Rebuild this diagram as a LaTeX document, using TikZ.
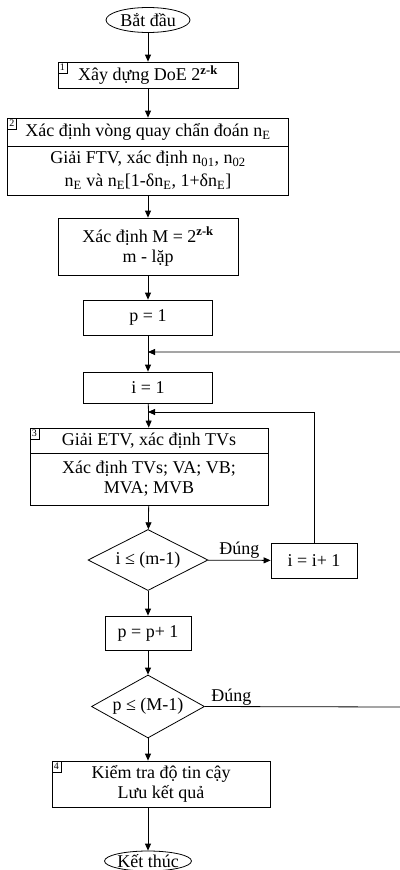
\documentclass[tikz,border=0pt]{standalone}
\usepackage{fontspec}
\setmainfont{Liberation Serif}
\usetikzlibrary{shapes.geometric,arrows.meta}

\begin{document}
\begin{tikzpicture}[>={Triangle[length=7pt,width=6pt]}, x=1pt, y=-1pt, line width=0.8pt,
    box/.style={draw, rectangle, inner sep=1.5pt, align=center, font=\fontsize{18}{20}\selectfont},
    term/.style={draw, ellipse, inner sep=0pt, font=\fontsize{18}{20}\selectfont},
    cond/.style={draw, diamond, aspect=2, inner sep=0pt, font=\fontsize{18}{20}\selectfont},
    num/.style={draw, anchor=north west, inner xsep=2pt, inner ysep=1pt, minimum height=11pt, line width=0.6pt, font=\fontsize{10}{10}\selectfont},
    lbl/.style={font=\fontsize{18}{20}\selectfont, inner sep=1pt}]
        \useasboundingbox (0,0) rectangle (399,870);

        \node (start) [term, minimum width=84pt, minimum height=25pt] at (148,20) {Bắt đầu};
        \node (b1) [box, minimum width=180pt, minimum height=26pt] at (148,75) {Xây dựng DoE 2\textsuperscript{\textbf{z-k}}};
        \node (b2a) [box, minimum width=281pt, minimum height=28pt] at (148,132) {Xác định vòng quay chẩn đoán n\textsubscript{E}};
        \node (b2b) [box, minimum width=281pt, minimum height=49pt] at (148,170.5) {Giải FTV, xác định n\textsubscript{01}, n\textsubscript{02}\\[3pt] n\textsubscript{E} và n\textsubscript{E}[1-δn\textsubscript{E}, 1+δn\textsubscript{E}]};
        \node (bm) [box, minimum width=180pt, minimum height=57pt] at (148,246.5) {Xác định M = 2\textsuperscript{\textbf{z-k}}\\ m - lặp};
        \node (p1) [box, minimum width=129pt, minimum height=35pt] at (148,317.5) {p = 1};
        \node (i1) [box, minimum width=129pt, minimum height=31pt] at (148,387.5) {i = 1};
        \node (b3a) [box, minimum width=238pt, minimum height=25pt] at (149,440.5) {Giải ETV, xác định TVs};
        \node (b3b) [box, minimum width=238pt, minimum height=52pt] at (149,479) {Xác định TVs; VA; VB;\\ MVA; MVB};
        \node (d1) [cond, minimum width=120pt, minimum height=61pt] at (148,560) {i ≤ (m-1)};
        \node (inc) [box, minimum width=86pt, minimum height=35pt] at (314,560.5) {i = i+ 1};
        \node (pp) [box, minimum width=86pt, minimum height=34pt] at (148,633) {p = p+ 1};
        \node (d2) [cond, minimum width=113pt, minimum height=63pt] at (148,706.5) {p ≤ (M-1)};
        \node (b4) [box, minimum width=218pt, minimum height=46pt] at (161,784) {Kiểm tra độ tin cậy\\ Lưu kết quả};
        \node (end) [term, minimum width=78pt, minimum height=20pt] at (148,861) {Kết thúc};

        % step numbers
        \node (n1) [num] at (b1.north west) {1};
        \node (n2) [num] at (b2a.north west) {2};
        \node (n3) [num] at (b3a.north west) {3};
        \node (n4) [num] at (b4.north west) {4};

        % loop points
        \coordinate (j1) at (148,352);
        \coordinate (j2) at (148,412);
        \coordinate (r1) at (400.5,352);
        \coordinate (r2) at (400.5,707);

        \draw [->] (start) -- (b1);
        \draw [->] (b1) -- (b2a);
        \draw [->] (b2b) -- (bm);
        \draw [->] (bm) -- (p1);
        \draw [->] (p1) -- (i1);
        \draw [->] (i1) -- (b3a);
        \draw [->] (b3b) -- (d1);
        \draw [->] (d1) -- node [lbl, above] (y1) {Đúng} (inc);
        \draw [->] (inc.north) |- (j2);
        \draw [->] (d1) -- (pp);
        \draw [->] (pp) -- (d2);
        \draw [->] (d2.south) -- (d2.south |- b4.north);
        \draw [->] (b4.south -| end.north) -- (end.north);
        \draw [->] (d2.east) -- (r2) -- (r1) -- (j1);
        \node (y2) [lbl, anchor=south west, xshift=5pt] at (d2.east) {Đúng};
    \end{tikzpicture}
\end{document}
